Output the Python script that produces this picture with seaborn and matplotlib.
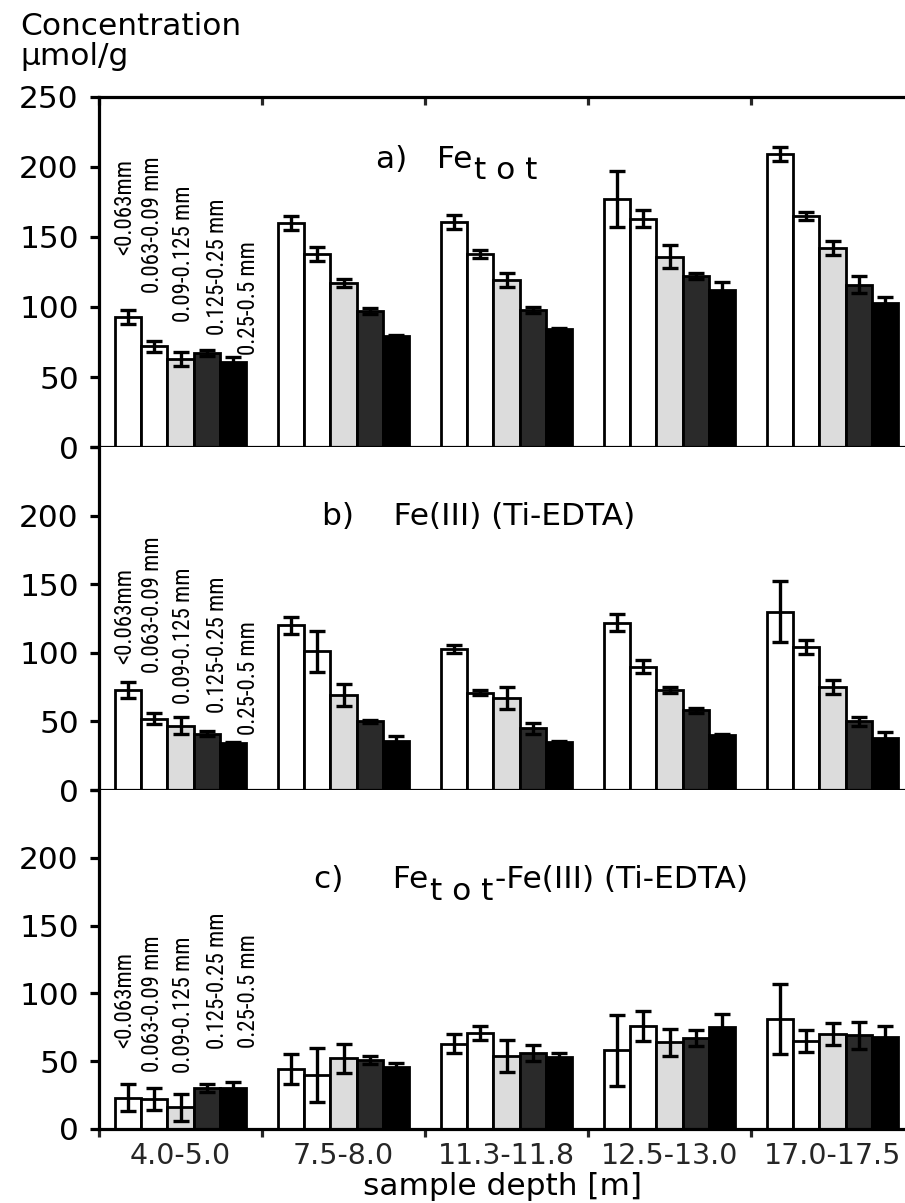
import numpy as np
import pandas as pd
import matplotlib
matplotlib.use("Agg")
import matplotlib.pyplot as plt
import seaborn as sns
from matplotlib import font_manager

# ---- data -------------------------------------------------------------
depths = ["4.0-5.0", "7.5-8.0", "11.3-11.8", "12.5-13.0", "17.0-17.5"]
fractions = ["<0.063mm", "0.063-0.09 mm", "0.09-0.125 mm", "0.125-0.25 mm", "0.25-0.5 mm"]

# rows: grain-size fraction, columns: sample depth (µmol/g)
fe_tot_mean = [
    [93, 160, 161, 177, 209],
    [72, 138, 138, 163, 165],
    [63, 117, 119, 136, 142],
    [67, 97, 98, 122, 116],
    [61, 79, 84, 112, 103],
]
fe_tot_err = [
    [5, 5, 5, 20, 5],
    [4, 5, 3, 6, 3],
    [5, 3, 5, 8, 5],
    [2, 2, 2, 2, 6],
    [3, 1, 1, 6, 4],
]

fe3_mean = [
    [73, 120, 103, 122, 130],
    [52, 101, 71, 90, 104],
    [47, 69, 67, 73, 75],
    [41, 50, 45, 58, 50],
    [34, 36, 35, 40, 38],
]
fe3_err = [
    [6, 6, 3, 6, 22],
    [4, 15, 2, 5, 5],
    [6, 8, 8, 2, 5],
    [2, 1, 4, 2, 3],
    [1, 3, 1, 1, 4],
]

diff_mean = [
    [23, 44, 63, 58, 81],
    [22, 40, 71, 76, 65],
    [16, 52, 54, 64, 70],
    [30, 51, 56, 67, 69],
    [30, 46, 53, 75, 68],
]
diff_err = [
    [10, 11, 7, 26, 26],
    [8, 20, 5, 11, 8],
    [10, 11, 12, 10, 8],
    [3, 3, 6, 6, 10],
    [5, 3, 3, 10, 8],
]

# ---- style ------------------------------------------------------------
sns.set_theme(style="white")
plt.rcParams["font.family"] = ["DejaVu Sans"]
plt.rcParams["axes.linewidth"] = 2.3

FS = 22.5
XFS = 20.5
fills = ["#ffffff", "#ffffff", "#dcdcdc", "#2a2a2a", "#000000"]
palette = dict(zip(fractions, fills))

W, H = 905, 1203
fig = plt.figure(figsize=(W / 100, H / 100), dpi=100)
LEFT = 99


def pick_narrow_font():
    """Prefer a narrow / condensed sans face for the rotated fraction labels."""
    entries = font_manager.fontManager.ttflist

    def regular(f):
        return f.style == "normal" and f.weight in (400, "normal", "regular", "book")

    for name in ["Liberation Sans Narrow", "Arial Narrow", "DejaVu Sans Condensed",
                 "Roboto Condensed", "Open Sans Condensed", "Noto Sans Condensed"]:
        for f in entries:
            if f.name == name and regular(f):
                return f.fname
    for f in entries:
        if (f.stretch in ("condensed", "semi-condensed", "extra-condensed")
                and regular(f) and "Mono" not in f.name and "Serif" not in f.name):
            return f.fname
    return None


narrow_path = pick_narrow_font()


def narrow_props(size):
    if narrow_path:
        return font_manager.FontProperties(fname=narrow_path, size=size)
    return font_manager.FontProperties(family="Liberation Sans", size=size)


# size the rotated labels so "0.063-0.09 mm" runs about 135 px
_probe = fig.text(0, 0, "0.063-0.09 mm", fontproperties=narrow_props(10))
_w = _probe.get_window_extent(fig.canvas.get_renderer()).width
_probe.remove()
rot_size = 10 * 135 / _w


def make_axes(top, bottom):
    return fig.add_axes([LEFT / W, 1 - bottom / H, (W - LEFT) / W, (bottom - top) / H])


def long_table(mean):
    rows = []
    for i, frac in enumerate(fractions):
        for j, dep in enumerate(depths):
            rows.append({"depth": dep, "fraction": frac, "value": mean[i][j]})
    return pd.DataFrame(rows)


label_x = [-0.34, -0.17, 0.02, 0.23, 0.42]


def draw_panel(ax, mean, err, label_y, show_top_label):
    sns.barplot(data=long_table(mean), x="depth", y="value", hue="fraction",
                order=depths, hue_order=fractions, palette=palette,
                saturation=1, edgecolor="black", linewidth=2.0,
                errorbar=None, legend=False, ax=ax, zorder=2)
    for cont, e in zip(ax.containers, err):
        xs = [b.get_x() + b.get_width() / 2 for b in cont]
        hs = [b.get_height() for b in cont]
        ax.errorbar(xs, hs, yerr=e, fmt="none", ecolor="black",
                    elinewidth=2.4, capsize=6, capthick=2.4, zorder=4)

    ax.set_xlim(-0.5, -0.5 + (W - LEFT) / 163)
    ax.set_ylim(0, 250)
    ticks = list(range(0, 251, 50))
    ax.set_yticks(ticks)
    ax.set_yticklabels([str(t) if (t < 250 or show_top_label) else "" for t in ticks])
    ax.tick_params(axis="y", direction="out", length=6.5, width=2.3, pad=8,
                   labelsize=FS, left=True, colors="black")
    ax.set_xticks(np.arange(-0.5, 4.0, 1.0), minor=True)
    ax.tick_params(axis="x", which="major", length=0, labelsize=XFS, pad=9)
    ax.set_xlabel("")
    ax.set_ylabel("")
    ax.spines["right"].set_visible(False)
    for s in ax.spines.values():
        s.set_color("black")

    for k, frac in enumerate(fractions):
        ax.text(label_x[k], label_y[k], frac, rotation=90, ha="center", va="bottom",
                fontproperties=narrow_props(rot_size), color="black")


def title(ax, x, y, head, tail=None):
    t = ax.text(x, y, head + "Fe", fontsize=FS, va="bottom", color="black")
    sub = ax.annotate("t o t", xy=(1, 0), xycoords=t, xytext=(1, -8),
                      textcoords="offset points", va="bottom", fontsize=FS, color="black")
    if tail:
        ax.annotate(tail, xy=(1, 0), xycoords=sub, xytext=(1, 8),
                    textcoords="offset points", va="bottom", fontsize=FS, color="black")


# panel a: total iron
ax_a = make_axes(97, 447)
draw_panel(ax_a, fe_tot_mean, fe_tot_err, [137, 110, 89, 80, 66], True)
ax_a.tick_params(axis="x", which="minor", top=True, bottom=False, direction="in",
                 length=6, width=2.3)
ax_a.tick_params(axis="x", labelbottom=False)
title(ax_a, 1.2, 195, "a)   ")

# panel b: Ti-EDTA extractable Fe(III)
ax_b = make_axes(447, 790)
draw_panel(ax_b, fe3_mean, fe3_err, [92, 85, 63, 56, 40], False)
ax_b.spines["top"].set_visible(False)
ax_b.tick_params(axis="x", which="minor", length=0, labelbottom=False)
ax_b.tick_params(axis="x", labelbottom=False)
ax_b.text(0.87, 189, "b)    Fe(III) (Ti-EDTA)", fontsize=FS, va="bottom", color="black")

# panel c: difference
ax_c = make_axes(790, 1129)
draw_panel(ax_c, diff_mean, diff_err, [60, 42, 41, 59, 60], False)
ax_c.spines["top"].set_visible(False)
ax_c.tick_params(axis="x", which="minor", bottom=True, direction="out",
                 length=6, width=2.3)
ax_c.set_xlabel("sample depth [m]", fontsize=FS, labelpad=2, color="black")
title(ax_c, 0.82, 173, "c)     ", "-Fe(III) (Ti-EDTA)")

fig.text(20 / W, 1 - 35 / H, "Concentration", fontsize=FS, va="baseline", color="black")
fig.text(20 / W, 1 - 65 / H, "µmol/g", fontsize=FS, va="baseline", color="black")

fig.savefig("out.png", dpi=100, facecolor="white")
